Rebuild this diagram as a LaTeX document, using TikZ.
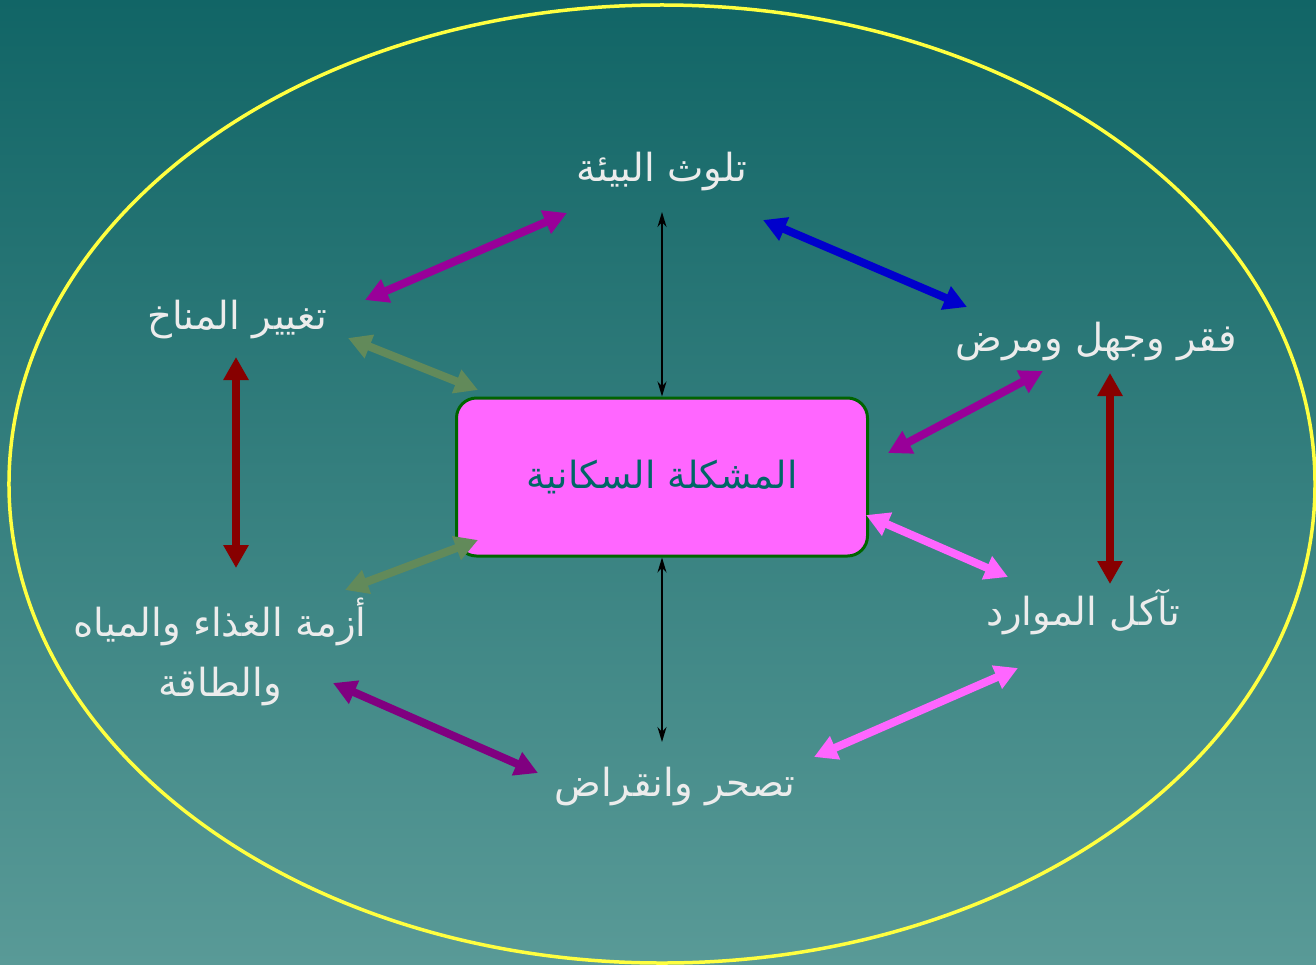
\documentclass[tikz,border=0pt]{standalone}
\usepackage{fontspec}
\usepackage{xcolor}
\usetikzlibrary{arrows.meta,calc,positioning}
\TeXXeTstate=1
\newfontfamily\arabicfont[Script=Arabic]{DejaVu Sans}

\definecolor{bgtop}{RGB}{17,101,102}
\definecolor{bgbottom}{RGB}{89,154,151}
\definecolor{rim}{RGB}{255,255,64}
\definecolor{boxpink}{RGB}{255,102,255}
\definecolor{boxline}{RGB}{0,100,0}
\definecolor{boxtext}{RGB}{0,102,102}
\definecolor{labeltext}{RGB}{236,236,236}
\definecolor{violetA}{RGB}{153,0,153}
\definecolor{violetB}{RGB}{128,0,128}
\definecolor{blueA}{RGB}{0,0,204}
\definecolor{oliveA}{RGB}{98,138,90}
\definecolor{redA}{RGB}{135,0,0}

\begin{document}
\begin{tikzpicture}[x=0.2mm, y=-0.2mm, semithick]
	\tikzstyle{topic}=[text=labeltext, font=\arabicfont\fontsize{22}{34}\selectfont, align=center, inner sep=0pt]
	\tikzstyle{core}=[draw=boxline, line width=0.6mm, fill=boxpink, rounded corners=4mm, minimum width=8.22cm, minimum height=3.16cm, text=boxtext, font=\arabicfont\fontsize{21.3}{26}\selectfont]
	\tikzstyle{link}=[line width=1.6mm, {Triangle[length=4.6mm,width=4.8mm]}-{Triangle[length=4.6mm,width=4.8mm]}]
	\tikzstyle{thin link}=[line width=0.35mm, {Stealth[length=3mm,width=1.8mm]}-{Stealth[length=3mm,width=1.8mm]}]

	\useasboundingbox (0,0) rectangle (1316,965);
	\shade[top color=bgtop, bottom color=bgbottom] (0,0) rectangle (1316,965);
	\draw[rim, line width=0.7mm] (662,484) ellipse [x radius=13.06cm, y radius=9.58cm];

	% centre and the six topics
	\node[core] (center) at (662,477) {\beginR المشكلة السكانية\endR};
	\node[topic] (pollution) at (662,172) {\beginR تلوث البيئة\endR};
	\node[topic] (climate) at (237,320) {\beginR تغيير المناخ\endR};
	\node[topic] (poverty) at (1096,342) {\beginR فقر وجهل ومرض\endR};
	\node[topic] (food) at (220,652) {\beginR أزمة الغذاء والمياه\endR\\ \beginR والطاقة\endR};
	\node[topic] (resources) at (1083,612) {\beginR تآكل الموارد\endR};
	\node[topic] (desert) at (675,787) {\beginR تصحر وانقراض\endR};

	% arrow ends
	\coordinate (a1) at (365,300);  \coordinate (a2) at (567,213);
	\coordinate (b1) at (763,220);  \coordinate (b2) at (967,307);
	\coordinate (c1) at (348,338);  \coordinate (c2) at (478,390);
	\coordinate (d1) at (236,357);  \coordinate (d2) at (236,568);
	\coordinate (e1) at (345,590);  \coordinate (e2) at (478,540);
	\coordinate (f1) at (888,453);  \coordinate (f2) at (1043,371);
	\coordinate (g1) at (1110,373); \coordinate (g2) at (1110,584);
	\coordinate (h1) at (866,515);  \coordinate (h2) at (1008,577);
	\coordinate (i1) at (1018,668); \coordinate (i2) at (814,757);
	\coordinate (j1) at (333,683);  \coordinate (j2) at (538,773);
	\coordinate (k1) at (662,212);  \coordinate (k2) at (662,742);

	\draw[link, violetA] (a1) -- (a2);
	\draw[link, blueA] (b1) -- (b2);
	\draw[link, oliveA] (c1) -- (c2);
	\draw[link, redA] (d1) -- (d2);
	\draw[link, oliveA] (e1) -- (e2);
	\draw[link, violetA] (f1) -- (f2);
	\draw[link, redA] (g1) -- (g2);
	\draw[link, boxpink] (h1) -- (h2);
	\draw[link, boxpink] (i1) -- (i2);
	\draw[link, violetB] (j1) -- (j2);
	\draw[thin link] (k1) -- (center.north);
	\draw[thin link] (center.south) -- (k2);
\end{tikzpicture}
\end{document}
